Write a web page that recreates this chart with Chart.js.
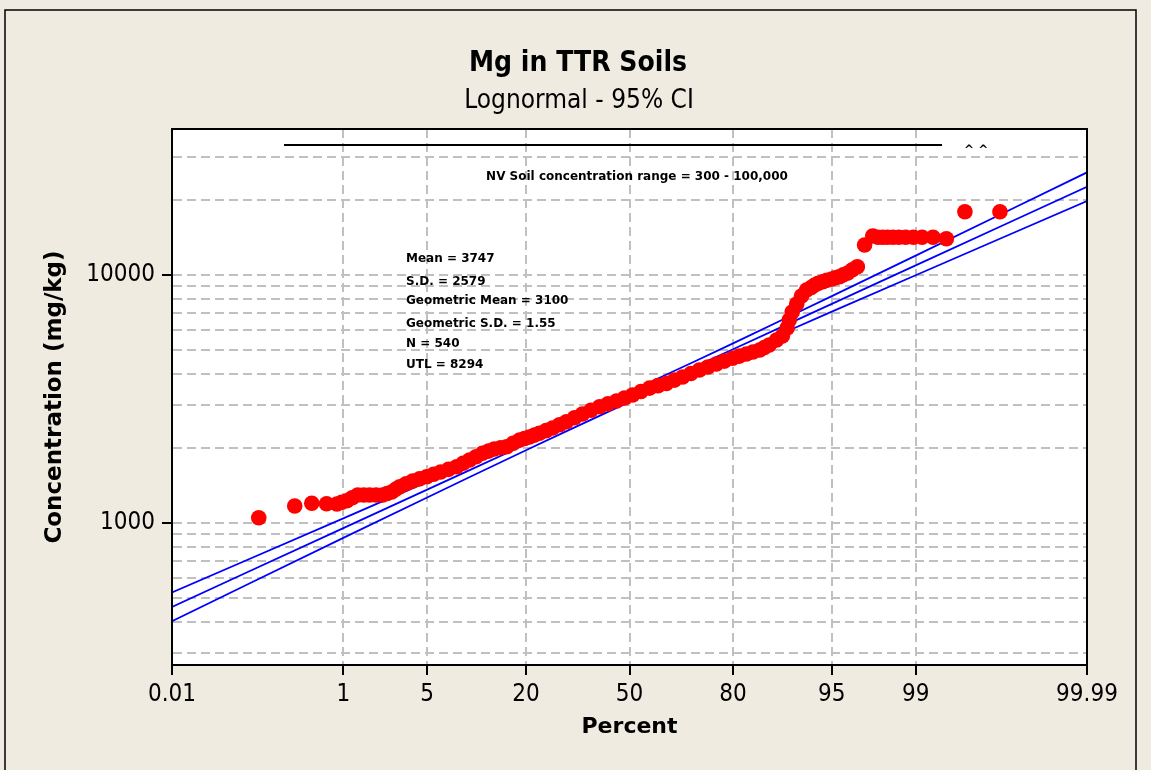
<!DOCTYPE html>
<html>
<head>
<meta charset="utf-8">
<script src="https://cdn.jsdelivr.net/npm/chart.js@4.4.1/dist/chart.umd.min.js"></script>
<style>
  html, body { margin: 0; padding: 0; background: #efebe1; }
  #wrap { width: 1151px; height: 770px; }
</style>
</head>
<body>
<div id="wrap"><canvas id="c" width="1151" height="770"></canvas></div>
<script>
// ---------------- data ----------------
const TITLE = 'Mg in TTR Soils';
const SUBTITLE = 'Lognormal - 95% CI';
const X_TITLE = 'Percent';
const Y_TITLE = 'Concentration (mg/kg)';

// probability-axis ticks (percent)
const X_TICKS = [0.01, 1, 5, 20, 50, 80, 95, 99, 99.99];
// log-axis gridlines and labelled ticks
const Y_GRID = [300, 400, 500, 600, 700, 800, 900, 1000, 2000, 3000, 4000, 5000, 6000, 7000, 8000, 9000, 10000, 20000, 30000];
const Y_LABELLED = [1000, 10000];
const Y_MIN = 267.6;
const Y_MAX = 38790;

// observed data (plotting position %, concentration mg/kg)
const OBS_PCT = [0.129, 0.325, 0.49, 0.69, 0.87, 0.965, 1.08, 1.21, 1.36, 1.54, 1.73, 1.97, 2.24, 2.44, 2.66, 2.87, 3.09, 3.47, 3.90, 4.40,
  4.96, 5.57, 6.24, 7.07, 8.00, 8.81, 9.68, 10.62, 11.6, 12.6, 13.6, 14.74, 15.9, 17.2, 18.6, 19.68, 20.8, 22.01, 23.2, 24.88,
  26.6, 28.48, 30.4, 32.75, 35.1, 37.72, 40.4, 43.07, 45.8, 48.38, 51.0, 53.72, 56.5, 59.15, 61.8, 64.27, 66.7, 69.13, 71.5, 73.82,
  76.0, 77.99, 79.9, 81.42, 82.9, 84.21, 85.5, 86.36, 87.2, 88.4, 89.3, 90.0, 90.3, 90.7, 91.3, 91.9, 92.5, 93.02, 93.4, 93.76,
  94.2, 94.57, 95.0, 95.29, 95.6, 95.89, 96.2, 96.5, 96.8, 97.2, 97.6, 97.83, 98.02, 98.20, 98.39, 98.57, 98.76, 98.95, 99.13, 99.32,
  99.50, 99.68, 99.87];
const OBS_CONC = [1050, 1171, 1201, 1196, 1193, 1212, 1230, 1264, 1297, 1297, 1297, 1297, 1297, 1315, 1334, 1367, 1401, 1439, 1477, 1507,
  1537, 1572, 1606, 1646, 1687, 1741, 1795, 1851, 1910, 1950, 1988, 2011, 2031, 2096, 2161, 2191, 2223, 2262, 2300, 2358,
  2416, 2489, 2562, 2656, 2751, 2848, 2944, 3024, 3105, 3192, 3281, 3391, 3500, 3581, 3656, 3769, 3880, 4007, 4140, 4256,
  4377, 4496, 4615, 4710, 4803, 4893, 4984, 5103, 5220, 5470, 5676, 6111, 6585, 7094, 7640, 8229, 8700, 8904, 9113, 9260,
  9398, 9520, 9636, 9743, 9842, 10018, 10186, 10495, 10800, 13213, 14365, 14200, 14200, 14200, 14200, 14200, 14200, 14200, 14200, 14200,
  14000, 18000, 18000];

// fitted lognormal line and 95% confidence bounds
const FIT_PCT    = [0.01, 0.1, 1, 5, 10, 20, 30, 50, 70, 80, 90, 95, 99, 99.9, 99.99];
const FIT_LOWER  = [402, 570, 871, 1268, 1547, 1966, 2332, 3080, 4042, 4751, 5931, 7116, 9979, 14565, 19870];
const FIT_CENTER = [459, 639, 954, 1363, 1649, 2077, 2453, 3228, 4250, 5019, 6323, 7647, 10930, 16320, 22690];
const FIT_UPPER  = [525, 716, 1044, 1465, 1757, 2194, 2579, 3384, 4470, 5302, 6738, 8222, 11970, 18280, 25920];

const STATS_LINES = ['Mean = 3747', 'S.D. = 2579', 'Geometric Mean = 3100', 'Geometric S.D. = 1.55', 'N = 540', 'UTL = 8294'];
const RANGE_TEXT = 'NV Soil concentration range = 300 - 100,000';
const RANGE_MARK = '^ ^';

// ---------------- probability (normal-quantile) scale ----------------
function probit(p) {
  const a = [-3.969683028665376e+01, 2.209460984245205e+02, -2.759285104469687e+02, 1.383577518672690e+02, -3.066479806614716e+01, 2.506628277459239e+00];
  const b = [-5.447609879822406e+01, 1.615858368580409e+02, -1.556989798598866e+02, 6.680131188771972e+01, -1.328068155288572e+01];
  const c = [-7.784894002430293e-03, -3.223964580411365e-01, -2.400758277161838e+00, -2.549732539343734e+00, 4.374664141464968e+00, 2.938163982698783e+00];
  const d = [7.784695709041462e-03, 3.224671290700398e-01, 2.445134137142996e+00, 3.754408661907416e+00];
  const pl = 0.02425, ph = 1 - pl;
  let q, r;
  if (p < pl) {
    q = Math.sqrt(-2 * Math.log(p));
    return (((((c[0]*q+c[1])*q+c[2])*q+c[3])*q+c[4])*q+c[5]) / ((((d[0]*q+d[1])*q+d[2])*q+d[3])*q+1);
  }
  if (p <= ph) {
    q = p - 0.5; r = q * q;
    return (((((a[0]*r+a[1])*r+a[2])*r+a[3])*r+a[4])*r+a[5])*q / (((((b[0]*r+b[1])*r+b[2])*r+b[3])*r+b[4])*r+1);
  }
  q = Math.sqrt(-2 * Math.log(1 - p));
  return -(((((c[0]*q+c[1])*q+c[2])*q+c[3])*q+c[4])*q+c[5]) / ((((d[0]*q+d[1])*q+d[2])*q+d[3])*q+1);
}
function normCdf(z) {
  const t = 1 / (1 + 0.3275911 * Math.abs(z) / Math.SQRT2);
  const y = 1 - (((((1.061405429*t - 1.453152027)*t) + 1.421413741)*t - 0.284496736)*t + 0.254829592)*t*Math.exp(-z*z/2);
  return z >= 0 ? 0.5 * (1 + y) : 0.5 * (1 - y);
}
class ProbitScale extends Chart.LinearScale {
  determineDataLimits() { this.min = this.options.min; this.max = this.options.max; }
  buildTicks() { return X_TICKS.map(v => ({ value: v })); }
  configure() {
    super.configure();
    this._zLo = probit(this.min / 100);
    this._zHi = probit(this.max / 100);
  }
  getPixelForValue(v) {
    return this.getPixelForDecimal((probit(v / 100) - this._zLo) / (this._zHi - this._zLo));
  }
  getValueForPixel(px) {
    return 100 * normCdf(this._zLo + this.getDecimalForPixel(px) * (this._zHi - this._zLo));
  }
}
ProbitScale.id = 'probit';
ProbitScale.defaults = Chart.LinearScale.defaults;
Chart.register(ProbitScale);

// ---------------- decorations ----------------
const COND = "'DejaVu Sans Condensed', 'Liberation Sans', sans-serif";
const BOLD = "'DejaVu Sans', 'Liberation Sans', sans-serif";
const deco = {
  id: 'deco',
  beforeDraw(chart) {
    const { ctx, chartArea: a } = chart;
    ctx.save();
    ctx.fillStyle = '#efebe1';
    ctx.fillRect(0, 0, chart.width, chart.height);
    ctx.fillStyle = '#ffffff';
    ctx.fillRect(a.left, a.top, a.right - a.left, a.bottom - a.top);
    ctx.restore();
  },
  afterDraw(chart) {
    const { ctx, chartArea: a } = chart;
    ctx.save();
    // outer frame
    ctx.strokeStyle = '#000'; ctx.lineWidth = 1.5;
    ctx.beginPath();
    ctx.moveTo(5, chart.height + 2); ctx.lineTo(5, 10); ctx.lineTo(1136, 10); ctx.lineTo(1136, chart.height + 2);
    ctx.stroke();
    // plot frame
    ctx.lineWidth = 2;
    ctx.strokeRect(a.left, a.top, a.right - a.left, a.bottom - a.top);
    // titles
    ctx.fillStyle = '#000';
    ctx.textAlign = 'center'; ctx.textBaseline = 'alphabetic';
    ctx.font = "bold 28px " + COND;
    ctx.fillText(TITLE, 578, 71);
    ctx.font = "26px " + COND;
    ctx.fillText(SUBTITLE, 579, 108);
    // range line and text
    ctx.lineWidth = 2;
    ctx.beginPath();
    ctx.moveTo(a.left + 112, a.top + 16); ctx.lineTo(a.left + 770, a.top + 16);
    ctx.stroke();
    ctx.font = "bold 12px " + BOLD;
    ctx.fillText(RANGE_TEXT, 637, 180);
    ctx.textAlign = 'left';
    ctx.fillText(RANGE_MARK, 964, 154);
    // statistics block
    const ys = [262, 285, 304, 327, 347, 368];
    STATS_LINES.forEach((s, i) => ctx.fillText(s, 406, ys[i]));
    ctx.restore();
  }
};

// ---------------- chart ----------------
const pts = OBS_PCT.map((p, i) => ({ x: p, y: OBS_CONC[i] }));
const mk = arr => FIT_PCT.map((p, i) => ({ x: p, y: arr[i] }));
const lineDs = (arr) => ({
  data: mk(arr), showLine: true, borderColor: '#0000ff', borderWidth: 1.8,
  pointRadius: 0, fill: false, order: 2, tension: 0
});

new Chart(document.getElementById('c'), {
  type: 'scatter',
  data: {
    datasets: [
      { data: pts, backgroundColor: '#ff0000', borderWidth: 0, pointRadius: 7.8, pointHoverRadius: 7.8, order: 1 },
      lineDs(FIT_UPPER), lineDs(FIT_CENTER), lineDs(FIT_LOWER)
    ]
  },
  options: {
    responsive: false,
    devicePixelRatio: 1,
    animation: false,
    events: [],
    layout: { padding: { left: 0, top: 129, right: 64, bottom: 0 } },
    plugins: { legend: { display: false }, tooltip: { enabled: false } },
    scales: {
      x: {
        type: 'probit', min: 0.01, max: 99.99, position: 'bottom',
        afterFit(s) { s.height = 105; },
        ticks: { autoSkip: false, maxRotation: 0, padding: 5, color: '#000',
          font: { family: COND, size: 24 }, callback: v => String(v) },
        grid: { color: '#c0c0c0', lineWidth: 2, tickLength: 10,
          tickColor: '#000', tickWidth: 2, tickBorderDash: [] },
        border: { display: true, color: '#000', width: 2, dash: [9, 5] },
        title: { display: true, text: X_TITLE, color: '#000', padding: 30,
          font: { family: BOLD, size: 22, weight: 'bold' } }
      },
      y: {
        type: 'logarithmic', min: Y_MIN, max: Y_MAX, position: 'left',
        afterFit(s) { s.width = 172; },
        afterBuildTicks(s) { s.ticks = Y_GRID.map(v => ({ value: v })); },
        ticks: { autoSkip: false, padding: 7, color: '#000',
          font: { family: COND, size: 24 },
          callback: v => Y_LABELLED.includes(v) ? String(v) : '' },
        grid: { color: '#c0c0c0', lineWidth: 2, tickLength: 10,
          tickColor: ctx => (ctx.tick && Y_LABELLED.includes(ctx.tick.value)) ? '#000' : 'rgba(0,0,0,0)',
          tickWidth: 2, tickBorderDash: [] },
        border: { display: true, color: '#000', width: 2, dash: [9, 5] },
        title: { display: true, text: Y_TITLE, color: '#000', padding: 41,
          font: { family: BOLD, size: 23, weight: 'bold' } }
      }
    }
  },
  plugins: [deco]
});
</script>
</body>
</html>
